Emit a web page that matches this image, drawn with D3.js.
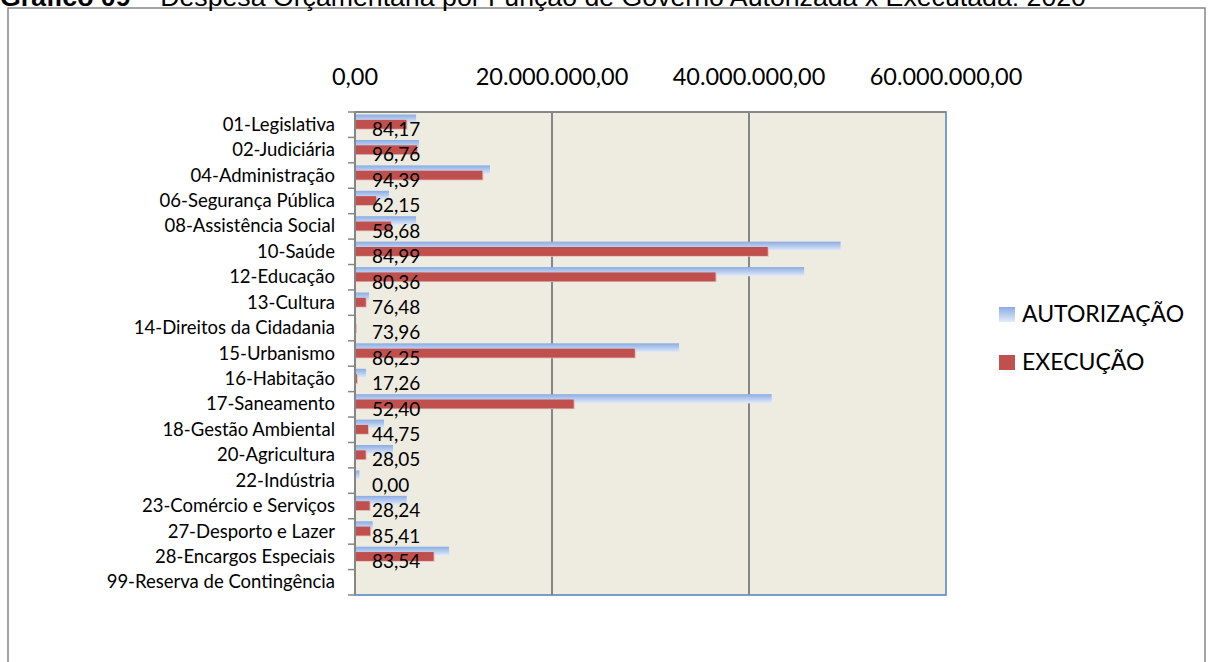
<!DOCTYPE html>
<html>
<head>
<meta charset="utf-8">
<script src="https://cdn.jsdelivr.net/npm/d3@7"></script>
<style>
  body { margin: 0; background: #fff; }
  svg { display: block; }
</style>
</head>
<body>
<div id="chart-container"></div>
<script>
// dados do gráfico
const categorias = [
  "01-Legislativa", "02-Judiciária", "04-Administração", "06-Segurança Pública",
  "08-Assistência Social", "10-Saúde", "12-Educação", "13-Cultura",
  "14-Direitos da Cidadania", "15-Urbanismo", "16-Habitação", "17-Saneamento",
  "18-Gestão Ambiental", "20-Agricultura", "22-Indústria", "23-Comércio e Serviços",
  "27-Desporto e Lazer", "28-Encargos Especiais", "99-Reserva de Contingência",
];
const autorizacao = [
  6200000, 6500000, 13700000, 3450000, 6200000, 49300000, 45600000, 1420000,
  120000, 32900000, 1120000, 42300000, 2950000, 3860000, 450000, 5250000,
  1800000, 9550000, 0,
];
const execucao = [
  5220000, 6290000, 12930000, 2140000, 3640000, 41900000, 36600000, 1090000,
  90000, 28400000, 190000, 22200000, 1320000, 1080000, 0, 1480000,
  1540000, 7980000, 0,
];
const percentual = [
  "84,17", "96,76", "94,39", "62,15", "58,68", "84,99", "80,36", "76,48",
  "73,96", "86,25", "17,26", "52,40", "44,75", "28,05", "0,00", "28,24",
  "85,41", "83,54", null,
];
const xTicks = [0, 20000000, 40000000, 60000000];
const series = ["AUTORIZAÇÃO", "EXECUÇÃO"];

const width = 1209;
const height = 662;
const font = "Lato, 'Open Sans', sans-serif";

const ptBR = d3.formatLocale({ decimal: ",", thousands: ".", grouping: [3], currency: ["R$ ", ""] });
const fmt = ptBR.format(",.2f");

const x = d3.scaleLinear().domain([0, 60000000]).range([355, 946]);
const y = d3.scaleBand().domain(categorias).range([112, 595]);

const svg = d3
  .select("#chart-container")
  .append("svg")
  .attr("width", width)
  .attr("height", height);

const defs = svg.append("defs");
const grad = defs
  .append("linearGradient")
  .attr("id", "blueGrad")
  .attr("x1", 0).attr("y1", 0).attr("x2", 0).attr("y2", 1);
grad.append("stop").attr("offset", "0%").attr("stop-color", "#8AACE4");
grad.append("stop").attr("offset", "100%").attr("stop-color", "#E4ECF8");

// moldura do gráfico
svg
  .append("rect")
  .attr("x", 8)
  .attr("y", 8)
  .attr("width", 1197)
  .attr("height", 700)
  .attr("fill", "none")
  .attr("stroke", "#868686")
  .attr("stroke-width", 1.5);

// título (cortado no topo, como no original)
const title = svg
  .append("text")
  .attr("x", 0)
  .attr("y", 6)
  .attr("font-family", "'Liberation Sans', Arial, sans-serif")
  .attr("font-size", 26.7)
  .attr("fill", "#000");
title.append("tspan").attr("font-weight", "bold").text("Gráfico 09");
title.append("tspan").text(" – Despesa Orçamentária por Função de Governo Autorizada x Executada: 2020");

// área de plotagem
svg
  .append("rect")
  .attr("x", x(0))
  .attr("y", y.range()[0])
  .attr("width", x.range()[1] - x(0))
  .attr("height", y.range()[1] - y.range()[0])
  .attr("fill", "#EEECE1")
  .attr("stroke", "#4F81BD")
  .attr("stroke-width", 1.5);

// linhas de grade
svg
  .append("g")
  .selectAll("line")
  .data(xTicks.slice(1, -1))
  .join("line")
  .attr("x1", (d) => x(d))
  .attr("x2", (d) => x(d))
  .attr("y1", y.range()[0])
  .attr("y2", y.range()[1])
  .attr("stroke", "#868686")
  .attr("stroke-width", 2);

// barras de autorização
const bw = y.bandwidth();
svg
  .append("g")
  .selectAll("rect")
  .data(categorias)
  .join("rect")
  .attr("x", x(0))
  .attr("y", (d) => y(d) + bw * 0.1)
  .attr("width", (d, i) => x(autorizacao[i]) - x(0))
  .attr("height", bw * 0.36)
  .attr("fill", "url(#blueGrad)");

// barras de execução (sombra + barra)
svg
  .append("g")
  .selectAll("rect")
  .data(categorias)
  .join("rect")
  .attr("x", x(0))
  .attr("y", (d) => y(d) + bw * 0.31 + 0.8)
  .attr("width", (d, i) => (execucao[i] > 0 ? x(execucao[i]) - x(0) + 1 : 0))
  .attr("height", bw * 0.35)
  .attr("fill", "#E6B9B8");
svg
  .append("g")
  .selectAll("rect")
  .data(categorias)
  .join("rect")
  .attr("x", x(0))
  .attr("y", (d) => y(d) + bw * 0.31)
  .attr("width", (d, i) => x(execucao[i]) - x(0))
  .attr("height", bw * 0.35)
  .attr("fill", "#C0504D");

// rótulos de percentual
svg
  .append("g")
  .attr("font-family", font)
  .attr("font-size", 19)
  .attr("fill", "#000")
  .selectAll("text")
  .data(categorias)
  .join("text")
  .attr("x", x(0) + 17)
  .attr("y", (d) => y(d) + 24)
  .text((d, i) => percentual[i] || "");

// eixo superior (valores)
svg
  .append("line")
  .attr("x1", x(0))
  .attr("x2", x.range()[1])
  .attr("y1", y.range()[0])
  .attr("y2", y.range()[0])
  .attr("stroke", "#868686")
  .attr("stroke-width", 2);

svg
  .append("g")
  .attr("font-family", font)
  .attr("font-size", 23.5)
  .attr("fill", "#000")
  .attr("text-anchor", "middle")
  .selectAll("text")
  .data(xTicks)
  .join("text")
  .attr("x", (d) => x(d))
  .attr("y", 85)
  .text(fmt);

// eixo de categorias
svg
  .append("line")
  .attr("x1", x(0))
  .attr("x2", x(0))
  .attr("y1", y.range()[0])
  .attr("y2", y.range()[1])
  .attr("stroke", "#868686")
  .attr("stroke-width", 2);

svg
  .append("g")
  .selectAll("line")
  .data(categorias.map((d) => y(d)).concat([y.range()[1]]))
  .join("line")
  .attr("x1", x(0) - 7)
  .attr("x2", x(0))
  .attr("y1", (d) => d)
  .attr("y2", (d) => d)
  .attr("stroke", "#868686")
  .attr("stroke-width", 1.5);

svg
  .append("g")
  .attr("font-family", font)
  .attr("font-size", 18.5)
  .attr("fill", "#000")
  .attr("text-anchor", "end")
  .selectAll("text")
  .data(categorias)
  .join("text")
  .attr("x", 335)
  .attr("y", (d) => y(d) + bw / 2)
  .attr("dy", "0.33em")
  .text((d) => d);

// legenda
const legend = svg
  .append("g")
  .attr("font-family", font)
  .attr("font-size", 23)
  .selectAll("g")
  .data(series)
  .join("g")
  .attr("transform", (d, i) => `translate(999, ${307 + i * 48})`);
legend
  .append("rect")
  .attr("width", 16)
  .attr("height", 15)
  .attr("fill", (d, i) => (i === 0 ? "url(#blueGrad)" : "#C0504D"));
legend
  .append("text")
  .attr("x", 23)
  .attr("y", 15)
  .attr("fill", "#000")
  .text((d) => d);
</script>
</body>
</html>
